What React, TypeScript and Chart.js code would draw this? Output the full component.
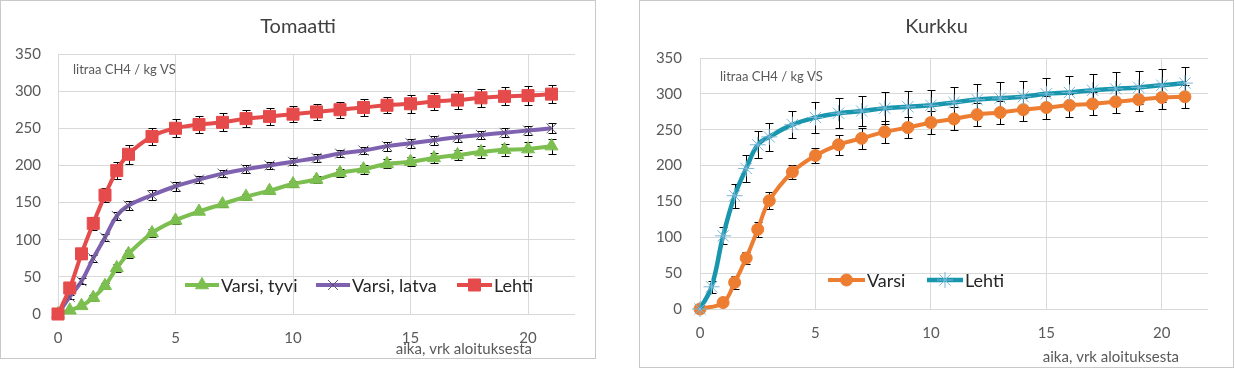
import React, { useEffect, useRef } from 'react';
import { Chart, registerables } from 'chart.js';

Chart.register(...registerables);

const FONT = 'Lato, "Open Sans", "DejaVu Sans", sans-serif';

// ---------- Tomaatti ----------
const TOM_X = [0, 0.5, 1, 1.5, 2, 2.5, 3, 4, 5, 6, 7, 8, 9, 10, 11, 12, 13, 14, 15, 16, 17, 18, 19, 20, 21];
const TOM_TYVI = [0, 5, 11, 22, 38, 62, 81, 109, 126, 138, 148, 158, 166, 175, 181, 190, 195, 202, 205, 210, 214, 218, 221, 222, 226];
const TOM_TYVI_ERR = [0, 2, 3, 4, 4, 5, 5, 5, 5, 4, 4, 4, 4, 4, 5, 5, 6, 6, 6, 7, 7, 8, 8, 9, 10];
const TOM_LATVA = [0, 23, 44, 75, 103, 132, 146, 160, 172, 181, 189, 195, 200, 205, 210, 216, 220, 226, 230, 234, 238, 241, 244, 247, 250];
const TOM_LATVA_ERR = [0, 3, 4, 5, 5, 5, 6, 7, 6, 5, 5, 5, 5, 5, 5, 5, 5, 6, 6, 6, 6, 6, 6, 6, 7];
const TOM_LEHTI = [0, 35, 81, 122, 160, 193, 215, 239, 250, 255, 258, 263, 266, 269, 272, 275, 278, 281, 283, 286, 288, 291, 293, 294, 296];
const TOM_LEHTI_ERR = [0, 5, 7, 9, 9, 11, 13, 12, 12, 11, 12, 11, 11, 11, 11, 11, 11, 11, 12, 12, 12, 12, 12, 13, 12];

// ---------- Kurkku ----------
const KUR_VARSI_X = [0, 1, 1.5, 2, 2.5, 3, 4, 5, 6, 7, 8, 9, 10, 11, 12, 13, 14, 15, 16, 17, 18, 19, 20, 21];
const KUR_VARSI = [0, 9, 37, 71, 111, 151, 191, 214, 229, 238, 247, 253, 260, 265, 271, 274, 278, 281, 284, 286, 289, 292, 295, 296];
const KUR_VARSI_ERR = [0, 3, 9, 8, 10, 12, 10, 11, 14, 15, 15, 15, 16, 16, 16, 16, 16, 16, 16, 16, 16, 16, 16, 16];
const KUR_LEHTI_X = [0, 0.5, 1, 1.5, 2, 2.5, 3, 4, 5, 6, 7, 8, 9, 10, 11, 12, 13, 14, 15, 16, 17, 18, 19, 20, 21];
const KUR_LEHTI = [0, 31, 102, 158, 196, 229, 240, 257, 267, 273, 276, 280, 282, 284, 288, 292, 294, 296, 300, 302, 305, 307, 309, 312, 315];
const KUR_LEHTI_ERR = [0, 8, 12, 17, 19, 19, 20, 19, 21, 21, 21, 22, 22, 22, 22, 22, 22, 22, 22, 23, 23, 23, 23, 23, 23];

const Y_MIN = 0;
const Y_MAX = 350;
const Y_STEP = 50;
const X_MIN = 0;
const X_MAX = 22;
const X_STEP = 5;

const UNIT_LABEL = 'litraa CH4 / kg VS';
const X_TITLE = 'aika, vrk aloituksesta';

type Series = {
  label: string;
  x: number[];
  y: number[];
  err: number[];
  color: string;
  fill: string;
  pointBorder: string;
  pointStyle: string;
  radius: number;
  lineWidth: number;
  legend: { x1: number; x2: number; tx: number };
};

type Panel = {
  title: string;
  left: number;
  width: number;
  height: number;
  yAxisW: number;
  yPad: number;
  padTop: number;
  padRight: number;
  xAxisH: number;
  titleY: number;
  unitX: number;
  unitY: number;
  xTitleRight: number;
  xTitleY: number;
  legendY: number;
  series: Series[];
};

const PANELS: Panel[] = [
  {
    title: 'Tomaatti',
    left: 0,
    width: 596,
    height: 359,
    yAxisW: 58,
    yPad: 17,
    padTop: 54,
    padRight: 21,
    xAxisH: 45,
    titleY: 27,
    unitX: 73,
    unitY: 70,
    xTitleRight: 532,
    xTitleY: 349,
    legendY: 285,
    series: [
      {
        label: 'Varsi, tyvi', x: TOM_X, y: TOM_TYVI, err: TOM_TYVI_ERR,
        color: '#7CBF50', fill: '#7CBF50', pointBorder: '#7CBF50', pointStyle: 'triangle', radius: 7.5, lineWidth: 4,
        legend: { x1: 185, x2: 219, tx: 221 },
      },
      {
        label: 'Varsi, latva', x: TOM_X, y: TOM_LATVA, err: TOM_LATVA_ERR,
        color: '#7E62B0', fill: '#7E62B0', pointBorder: '#5E5470', pointStyle: 'crossRot', radius: 7, lineWidth: 4,
        legend: { x1: 316, x2: 350, tx: 352 },
      },
      {
        label: 'Lehti', x: TOM_X, y: TOM_LEHTI, err: TOM_LEHTI_ERR,
        color: '#E64B4B', fill: '#E64B4B', pointBorder: '#E64B4B', pointStyle: 'rect', radius: 8.5, lineWidth: 4,
        legend: { x1: 457, x2: 492, tx: 494 },
      },
    ],
  },
  {
    title: 'Kurkku',
    left: 639,
    width: 595,
    height: 368,
    yAxisW: 61,
    yPad: 18,
    padTop: 58,
    padRight: 26,
    xAxisH: 59,
    titleY: 27,
    unitX: 81,
    unitY: 77,
    xTitleRight: 540,
    xTitleY: 357,
    legendY: 280,
    series: [
      {
        label: 'Varsi', x: KUR_VARSI_X, y: KUR_VARSI, err: KUR_VARSI_ERR,
        color: '#ED7D31', fill: '#ED7D31', pointBorder: '#ED7D31', pointStyle: 'circle', radius: 6, lineWidth: 4,
        legend: { x1: 189, x2: 226, tx: 228 },
      },
      {
        label: 'Lehti', x: KUR_LEHTI_X, y: KUR_LEHTI, err: KUR_LEHTI_ERR,
        color: '#1796AE', fill: '#1796AE', pointBorder: '#7BB7D6', pointStyle: 'star', radius: 8, lineWidth: 4.5,
        legend: { x1: 288, x2: 324, tx: 326 },
      },
    ],
  },
];

function drawMarker(ctx: CanvasRenderingContext2D, style: string, x: number, y: number, r: number, fill: string, stroke: string) {
  ctx.save();
  ctx.fillStyle = fill;
  ctx.strokeStyle = stroke;
  ctx.lineWidth = 1;
  ctx.beginPath();
  if (style === 'rect') {
    const s = Math.SQRT1_2 * r;
    ctx.rect(x - s, y - s, 2 * s, 2 * s);
    ctx.fill();
    ctx.stroke();
  } else if (style === 'triangle') {
    let a = 0;
    ctx.moveTo(x + Math.sin(a) * r, y - Math.cos(a) * r);
    a += (2 * Math.PI) / 3;
    ctx.lineTo(x + Math.sin(a) * r, y - Math.cos(a) * r);
    a += (2 * Math.PI) / 3;
    ctx.lineTo(x + Math.sin(a) * r, y - Math.cos(a) * r);
    ctx.closePath();
    ctx.fill();
    ctx.stroke();
  } else if (style === 'circle') {
    ctx.arc(x, y, r, 0, Math.PI * 2);
    ctx.fill();
    ctx.stroke();
  } else {
    const d = Math.SQRT1_2 * r;
    ctx.moveTo(x - d, y - d);
    ctx.lineTo(x + d, y + d);
    ctx.moveTo(x - d, y + d);
    ctx.lineTo(x + d, y - d);
    if (style === 'star') {
      ctx.moveTo(x - r, y);
      ctx.lineTo(x + r, y);
      ctx.moveTo(x, y - r);
      ctx.lineTo(x, y + r);
    }
    ctx.stroke();
  }
  ctx.restore();
}

function panelPlugin(p: Panel) {
  return {
    id: 'panelDeco' + p.left,
    beforeDraw(chart: any) {
      const ctx: CanvasRenderingContext2D = chart.ctx;
      ctx.save();
      ctx.fillStyle = '#ffffff';
      ctx.fillRect(0, 0, chart.width, chart.height);
      ctx.strokeStyle = '#C9C9C9';
      ctx.lineWidth = 1;
      ctx.strokeRect(0.5, 0.5, chart.width - 1, chart.height - 1);
      ctx.restore();
    },
    beforeDatasetsDraw(chart: any) {
      const ctx: CanvasRenderingContext2D = chart.ctx;
      const xs = chart.scales.x;
      const ys = chart.scales.y;
      ctx.save();
      ctx.strokeStyle = '#000000';
      ctx.lineWidth = 1;
      p.series.forEach((s) => {
        s.x.forEach((xv, i) => {
          const e = s.err[i];
          if (!e) return;
          const px = Math.round(xs.getPixelForValue(xv)) + 0.5;
          const top = Math.round(ys.getPixelForValue(s.y[i] + e)) + 0.5;
          const bot = Math.round(ys.getPixelForValue(s.y[i] - e)) + 0.5;
          ctx.beginPath();
          ctx.moveTo(px, top);
          ctx.lineTo(px, bot);
          ctx.moveTo(px - 4, top);
          ctx.lineTo(px + 4, top);
          ctx.moveTo(px - 4, bot);
          ctx.lineTo(px + 4, bot);
          ctx.stroke();
        });
      });
      ctx.restore();
    },
    afterDraw(chart: any) {
      const ctx: CanvasRenderingContext2D = chart.ctx;
      ctx.save();
      // title
      ctx.fillStyle = '#404040';
      ctx.font = `20px ${FONT}`;
      ctx.textAlign = 'center';
      ctx.textBaseline = 'middle';
      ctx.fillText(p.title, chart.width / 2, p.titleY);
      // unit label
      ctx.fillStyle = '#595959';
      ctx.font = `13px ${FONT}`;
      ctx.textAlign = 'left';
      ctx.fillText(UNIT_LABEL, p.unitX, p.unitY);
      // x axis title
      ctx.font = `15px ${FONT}`;
      ctx.textAlign = 'right';
      ctx.fillText(X_TITLE, p.xTitleRight, p.xTitleY);
      // legend
      p.series.forEach((s) => {
        const L = s.legend;
        ctx.strokeStyle = s.color;
        ctx.lineWidth = s.lineWidth;
        ctx.beginPath();
        ctx.moveTo(L.x1, p.legendY);
        ctx.lineTo(L.x2, p.legendY);
        ctx.stroke();
        drawMarker(ctx, s.pointStyle, (L.x1 + L.x2) / 2, p.legendY, s.radius, s.fill, s.pointBorder);
        ctx.fillStyle = '#262626';
        ctx.font = `18px ${FONT}`;
        ctx.textAlign = 'left';
        ctx.textBaseline = 'middle';
        ctx.fillText(s.label, L.tx, p.legendY + 1);
      });
      ctx.restore();
    },
  };
}

function makeConfig(p: Panel): any {
  const n = p.series.length;
  return {
    type: 'line',
    data: {
      datasets: p.series.map((s, i) => ({
        label: s.label,
        data: s.x.map((xv, k) => ({ x: xv, y: s.y[k] })),
        borderColor: s.color,
        borderWidth: s.lineWidth,
        backgroundColor: s.fill,
        pointStyle: s.pointStyle,
        pointRadius: s.radius,
        pointBackgroundColor: s.fill,
        pointBorderColor: s.pointBorder,
        pointBorderWidth: 1,
        tension: 0.4,
        fill: false,
        clip: false,
        order: n - i,
      })),
    },
    options: {
      animation: false,
      responsive: false,
      events: [],
      layout: { padding: { left: 0, right: p.padRight, top: p.padTop, bottom: 0 } },
      plugins: {
        legend: { display: false },
        tooltip: { enabled: false },
        title: { display: false },
      },
      scales: {
        x: {
          type: 'linear',
          min: X_MIN,
          max: X_MAX,
          afterFit: (sc: any) => { sc.height = p.xAxisH; },
          grid: { color: '#D9D9D9', drawTicks: false, lineWidth: 1 },
          border: { display: false },
          ticks: {
            stepSize: X_STEP,
            includeBounds: false,
            padding: 15,
            color: '#595959',
            font: { family: FONT, size: 15 },
            maxRotation: 0,
          },
        },
        y: {
          type: 'linear',
          min: Y_MIN,
          max: Y_MAX,
          afterFit: (sc: any) => { sc.width = p.yAxisW; },
          grid: { color: '#D9D9D9', drawTicks: false, lineWidth: 1 },
          border: { display: false },
          ticks: {
            stepSize: Y_STEP,
            padding: p.yPad,
            color: '#595959',
            font: { family: FONT, size: 15 },
          },
        },
      },
    },
    plugins: [panelPlugin(p)],
  };
}

function PanelChart({ p }: { p: Panel }) {
  const ref = useRef<HTMLCanvasElement>(null);
  useEffect(() => {
    if (!ref.current) return;
    const chart = new Chart(ref.current, makeConfig(p));
    return () => chart.destroy();
  }, [p]);
  return (
    <canvas
      ref={ref}
      width={p.width}
      height={p.height}
      style={{ position: 'absolute', left: p.left, top: 0, width: p.width, height: p.height, display: 'block' }}
    />
  );
}

export default function App() {
  return (
    <div style={{ position: 'fixed', left: 0, top: 0, width: 1235, height: 368, background: '#ffffff', overflow: 'hidden' }}>
      {PANELS.map((p) => (
        <PanelChart key={p.title} p={p} />
      ))}
    </div>
  );
}
